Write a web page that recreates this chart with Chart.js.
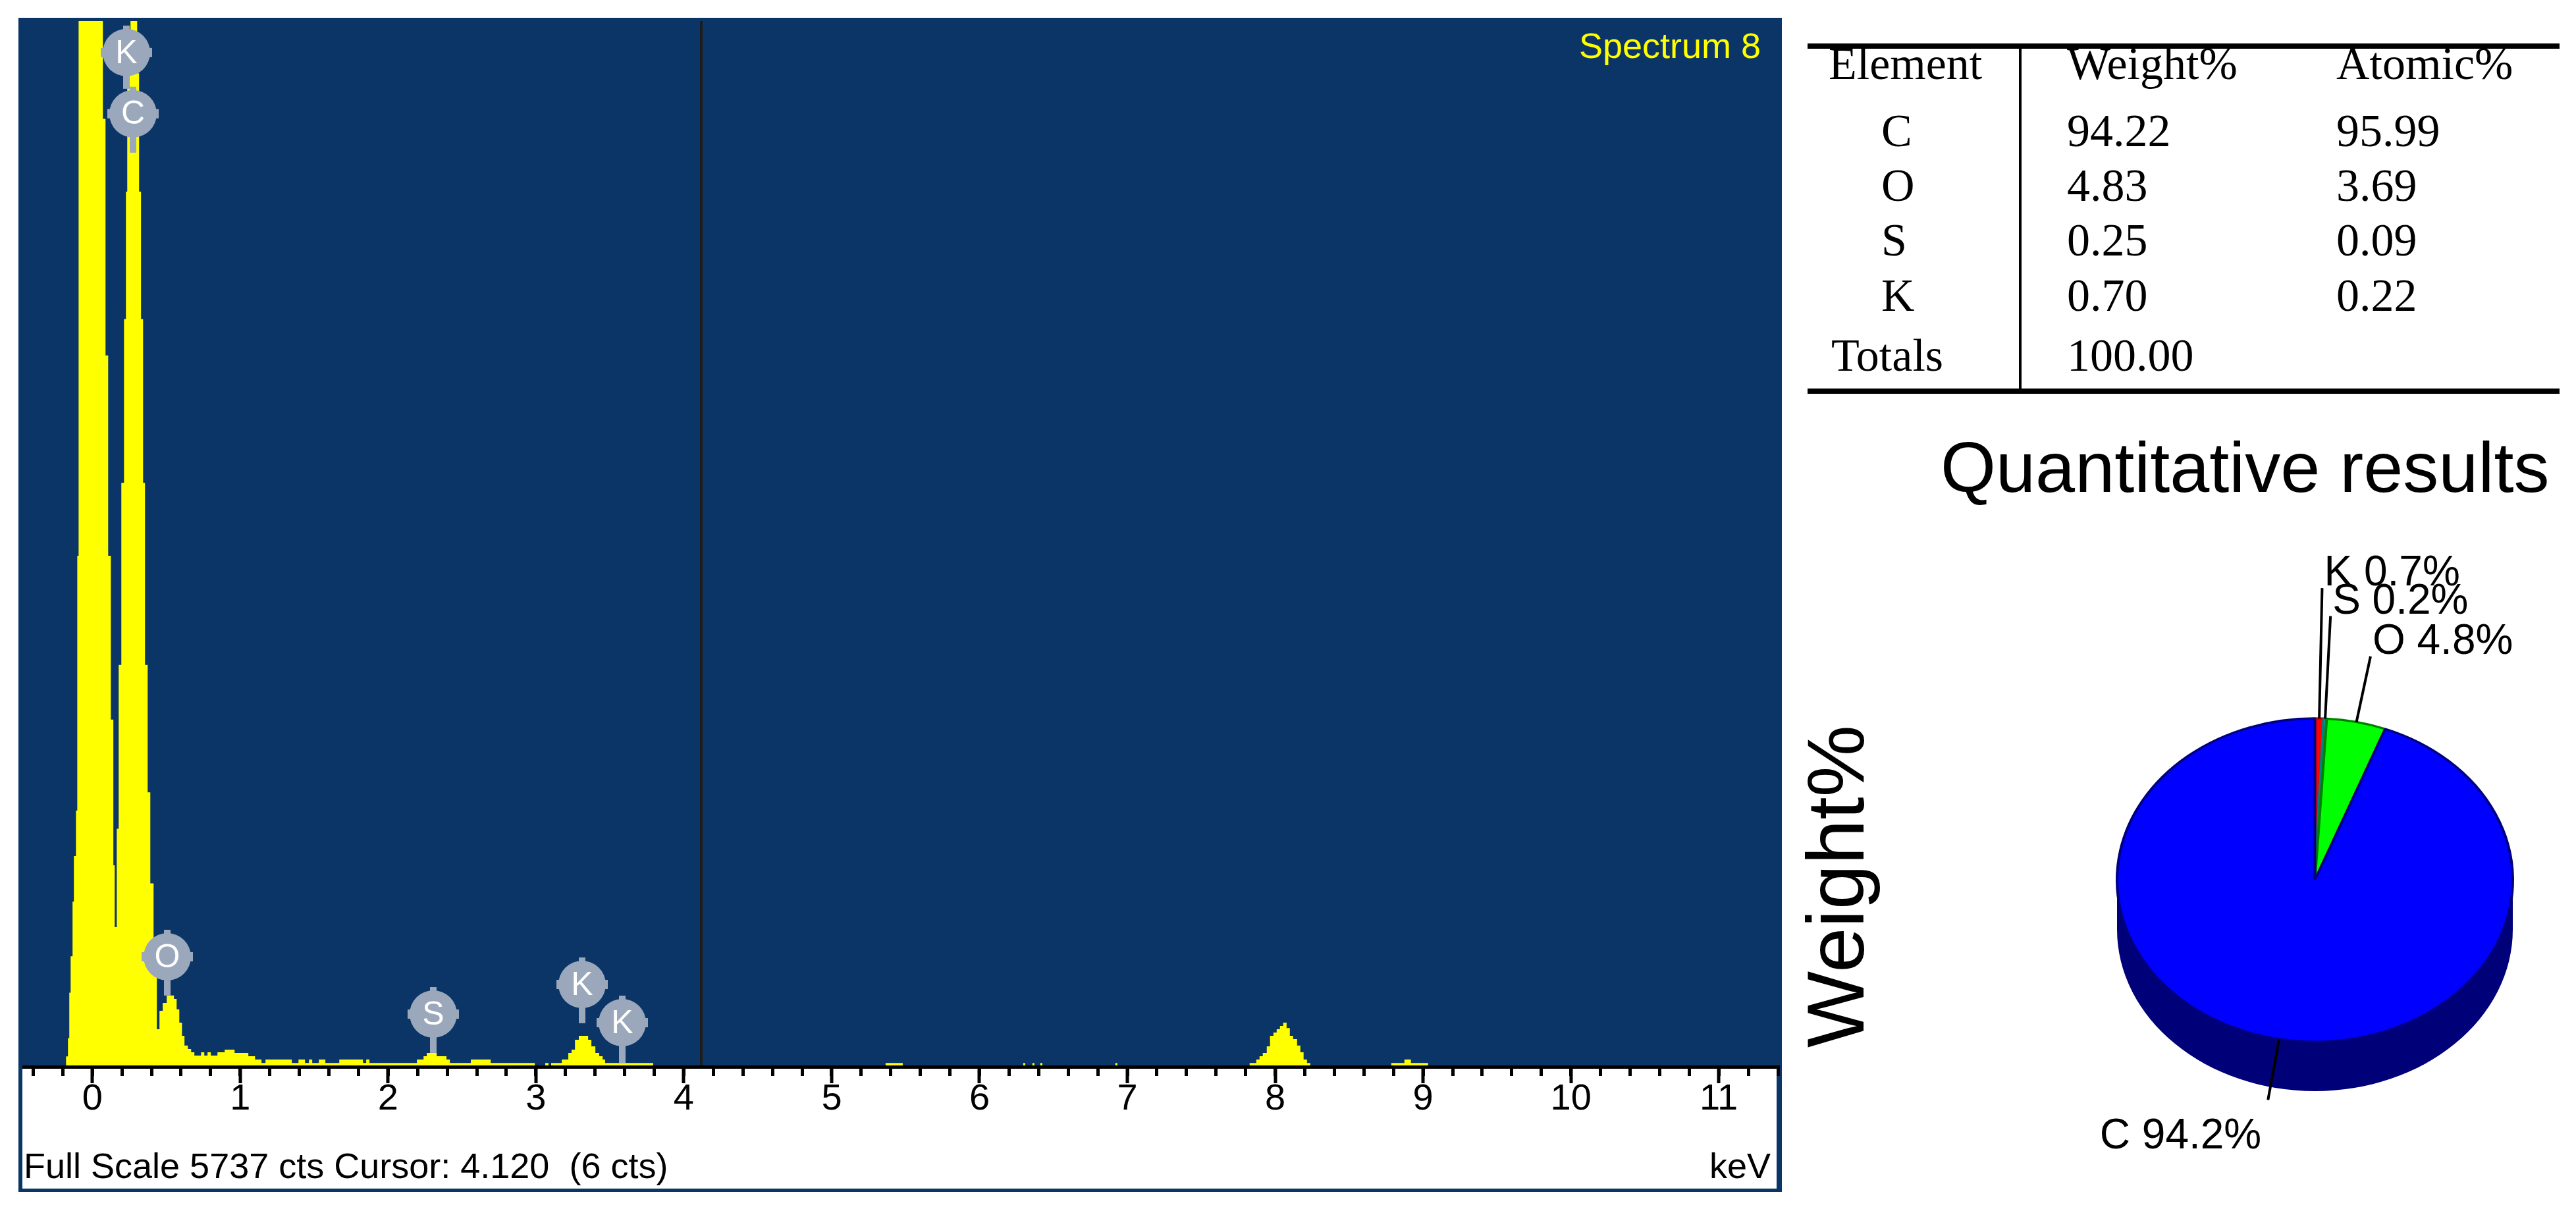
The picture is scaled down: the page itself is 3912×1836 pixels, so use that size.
<!DOCTYPE html>
<html>
<head>
<meta charset="utf-8">
<title>EDS spectrum 8</title>
<script src="https://cdn.jsdelivr.net/npm/chart.js@4.4.1/dist/chart.umd.min.js"></script>
<style>
  html, body { margin: 0; padding: 0; background: #fff; }
  body { position: relative; width: 3912px; height: 1836px; overflow: hidden; }
  #spectrum { position: absolute; left: 28px; top: 27px; }
  #pie { position: absolute; left: 2720px; top: 620px; }
  #results { position: absolute; left: 2745px; top: 66px; width: 1142px; table-layout: fixed;
    border-collapse: separate; border-spacing: 0; border-top: 8px solid #000; border-bottom: 8px solid #000;
    font-family: 'Liberation Serif', 'Times New Roman', serif; font-size: 70px; color: #000; }
  #results td { padding: 0; line-height: 76px; vertical-align: top; white-space: nowrap; box-sizing: border-box; }
  #results tr.hd td { line-height: 45px; }
  #results td.el { border-right: 4px solid #000; }
  #results td.w { padding-left: 69px; }
</style>
</head>
<body>
<canvas id="spectrum" width="2678" height="1783"></canvas>
<table id="results">
  <colgroup><col style="width:325px"><col style="width:478px"><col style="width:339px"></colgroup>
  <tbody id="rows"></tbody>
</table>
<canvas id="pie" width="1192" height="1216"></canvas>
<script>
// spectrum: each entry starts a run of channels (keV) at a count level
const energyKeV = [
  -0.5, -0.178, -0.165, -0.156, -0.147, -0.134, -0.125, -0.111, -0.102, -0.093,
  0.071, 0.089, 0.107, 0.125, 0.142, 0.151,
  0.165, 0.178, 0.196, 0.214, 0.227, 0.236, 0.258, 0.303, 0.316, 0.329, 0.343, 0.356, 0.374, 0.392, 0.414, 0.436,
  0.454, 0.476, 0.503, 0.552, 0.570, 0.588, 0.606, 0.623, 0.646, 0.668, 0.690, 0.735, 0.757, 0.779, 0.801, 0.846,
  0.895, 0.962, 1.055, 1.100, 1.144, 1.171, 1.349, 1.394, 1.438, 1.465, 1.487, 1.532, 1.576, 1.670, 1.830, 1.852, 1.874,
  2.195, 2.240, 2.262, 2.329, 2.395, 2.418, 2.560, 2.694, 2.992, 3.063, 3.085,
  3.103, 3.175, 3.219, 3.241, 3.264, 3.290, 3.353, 3.375, 3.402, 3.428, 3.451, 3.468, 3.793,
  5.365, 5.481, 6.296, 6.309, 6.358, 6.371, 6.411, 6.425, 6.919, 6.932,
  7.827, 7.872, 7.894, 7.916, 7.943, 7.965, 7.988, 8.010, 8.032, 8.054, 8.077, 8.099, 8.121, 8.148, 8.170, 8.192, 8.215, 8.237,
  8.785, 8.874, 8.918, 9.034, 11.4
];
const counts = [
  0, 50, 150, 400, 600, 900, 1150, 1400, 2800, 9000,
  5200, 3900, 2800, 1900, 1100, 760,
  1300, 2200, 3200, 4100, 4800, 5450, 5900, 5450, 4800, 4100, 3200, 2200, 1500, 1000, 600, 199,
  300, 344, 384, 365, 308, 235, 163, 109, 90, 72, 54, 72, 54, 72, 54, 72,
  87, 69, 51, 33, 14, 33, 14, 33, 14, 33, 14, 33, 14, 33, 14, 33, 14,
  33, 51, 69, 51, 33, 14, 33, 14, 0, 14, 0,
  14, 33, 69, 87, 141, 163, 141, 105, 69, 51, 33, 14, 0,
  14, 0, 14, 0, 14, 0, 14, 0, 14, 0,
  14, 33, 51, 69, 105, 163, 181, 199, 217, 235, 205, 163, 145, 109, 72, 33, 14, 0,
  14, 33, 14, 0, 0
];
const fullScale = 5737;
const cursorKeV = 4.12;
const cursorCts = 6;
const axisKeV = [-0.5, 11.4];

// peak tags: element, energy, tag height and stem end (cts)
const peakLabels = ['K', 'C', 'O', 'S', 'K', 'K'];
const peakKeV = [0.232, 0.276, 0.508, 2.306, 3.313, 3.586];
const peakTagCts = [5564, 5228, 597, 282, 445, 235];
const peakStemCts = [5365, 5014, 384, 69, 232, 14];

// quantitative results
const elements = ['C', 'O', 'S', 'K'];
const weightPct = [94.22, 4.83, 0.25, 0.70];
const atomicPct = [95.99, 3.69, 0.09, 0.22];

const PANEL = '#0a3566';
const TAG = '#9ba8bb';
const SANS = '"Liberation Sans", Arial, sans-serif';

// ---------- table ----------
const rowH = [87, 83, 83, 84, 91, 88];
const tbody = document.getElementById('rows');
function addRow(cells, h, pad, cls) {
  const tr = document.createElement('tr');
  if (cls) tr.className = cls;
  cells.forEach((txt, j) => {
    const td = document.createElement('td');
    td.textContent = txt;
    td.style.height = h + 'px';
    if (j === 0) { td.className = 'el'; td.style.paddingLeft = pad + 'px'; }
    if (j === 1) td.className = 'w';
    tr.appendChild(td);
  });
  tbody.appendChild(tr);
}
addRow(['Element', 'Weight%', 'Atomic%'], rowH[0], 32, 'hd');
elements.forEach((el, i) => addRow([el, weightPct[i].toFixed(2), atomicPct[i].toFixed(2)], rowH[i + 1], 112));
addRow(['Totals', weightPct.reduce((a, b) => a + b, 0).toFixed(2), ''], rowH[5], 36);

// ---------- spectrum ----------
const isWhole = v => Math.abs(v - Math.round(v)) < 1e-6;

const spectrumDeco = {
  id: 'spectrumDeco',
  beforeDraw(chart) {
    const {ctx, width, height, chartArea} = chart;
    ctx.save();
    ctx.fillStyle = PANEL;
    ctx.fillRect(0, 0, width, height);
    ctx.fillStyle = '#fff';
    ctx.fillRect(6, chartArea.bottom + 5, width - 14, height - 5 - (chartArea.bottom + 5));
    ctx.restore();
  },
  afterDatasetsDraw(chart) {
    const {ctx, width, chartArea} = chart;
    const xs = chart.scales.x, ys = chart.scales.y;
    ctx.save();
    // cursor
    const cx = xs.getPixelForValue(cursorKeV);
    ctx.fillStyle = '#1c1c1c';
    ctx.fillRect(Math.round(cx) - 2, chartArea.top, 4, chartArea.bottom - chartArea.top);
    // axis line and major ticks
    ctx.fillStyle = '#000';
    ctx.fillRect(6, chartArea.bottom, width - 14, 5);
    for (let v = Math.ceil(axisKeV[0]); v <= axisKeV[1]; v++) {
      const px = Math.round(xs.getPixelForValue(v));
      ctx.fillRect(px - 2.5, chartArea.bottom, 5, 27);
    }
    // peak tags
    const R = 36;
    ctx.textAlign = 'center';
    ctx.textBaseline = 'middle';
    ctx.font = '50px ' + SANS;
    peakLabels.forEach((lab, i) => {
      const px = Math.round(xs.getPixelForValue(peakKeV[i]));
      const py = ys.getPixelForValue(peakTagCts[i]);
      const sy = ys.getPixelForValue(peakStemCts[i]);
      ctx.fillStyle = TAG;
      ctx.fillRect(px - 5, py, 10, sy - py);
      ctx.fillRect(px - 5, py - R - 5, 10, 10);
      ctx.fillRect(px - R - 3, py - 7, 2 * R + 6, 14);
      ctx.beginPath();
      ctx.arc(px, py, R, 0, Math.PI * 2);
      ctx.fill();
      ctx.fillStyle = '#fff';
      ctx.fillText(lab, px, py + 2);
    });
    // texts
    ctx.font = '54px ' + SANS;
    ctx.textBaseline = 'alphabetic';
    ctx.fillStyle = '#ffff00';
    ctx.textAlign = 'right';
    ctx.fillText('Spectrum 8', 2646, 61);
    ctx.fillStyle = '#000';
    ctx.fillText('keV', 2661, 1762);
    ctx.textAlign = 'left';
    ctx.fillText('Full Scale ' + fullScale + ' cts Cursor: ' + cursorKeV.toFixed(3) + '  (' + cursorCts + ' cts)', 8, 1762);
    ctx.restore();
  }
};

new Chart(document.getElementById('spectrum'), {
  type: 'line',
  data: {
    datasets: [{
      label: 'Spectrum 8',
      data: energyKeV.map((e, i) => ({x: e, y: counts[i]})),
      stepped: true,
      fill: 'origin',
      backgroundColor: '#ffff00',
      borderColor: 'rgba(0,0,0,0)',
      borderWidth: 0,
      pointRadius: 0
    }]
  },
  options: {
    responsive: false,
    animation: false,
    devicePixelRatio: 1,
    layout: {padding: {left: 0, right: 6, top: 5, bottom: 0}},
    plugins: {legend: {display: false}, tooltip: {enabled: false}},
    scales: {
      x: {
        type: 'linear',
        min: axisKeV[0],
        max: axisKeV[1],
        afterFit: s => { s.height = 192; },
        border: {display: false},
        grid: {drawOnChartArea: false, drawTicks: true, tickLength: 16, tickWidth: 5, tickColor: '#000'},
        ticks: {
          stepSize: 0.2, maxTicksLimit: 200, includeBounds: false, autoSkip: false, maxRotation: 0,
          padding: 2, color: '#000', font: {family: 'Liberation Sans', size: 56},
          callback: v => isWhole(v) ? String(Math.round(v)) : ''
        }
      },
      y: {display: false, min: 0, max: fullScale}
    }
  },
  plugins: [spectrumDeco]
});

// ---------- pie ----------
const pieOrder = [...elements].reverse();   // K, S, O, C clockwise from 12 o'clock
const pieVals = pieOrder.map(el => weightPct[elements.indexOf(el)]);
const sliceFill = {C: '#0000ff', O: '#00ff00', S: '#00c0c0', K: '#ff0000'};
const sliceEdge = {C: '#000080', O: '#008000', S: '#008080', K: '#c00000'};
const sideFill = {C: '#000078', O: '#008000', S: '#008080', K: '#800000'};
const leaderLen = {C: 94, O: 102, S: 156, K: 198};
const SQUASH = 0.817, DEPTH = 75;

const pie3d = {
  id: 'pie3d',
  beforeDatasetsDraw(chart) {
    const ctx = chart.ctx;
    const arcs = chart.getDatasetMeta(0).data;
    const {x, y, outerRadius} = arcs[0];
    ctx.save();
    ctx.translate(x, y); ctx.scale(1, SQUASH); ctx.translate(-x, -y);
    const d = DEPTH / SQUASH;
    arcs.forEach((a, i) => {
      const s = Math.max(a.startAngle, 0), e = Math.min(a.endAngle, Math.PI);
      if (e <= s) return;
      ctx.beginPath();
      ctx.arc(x, y, outerRadius, s, e);
      ctx.arc(x, y + d, outerRadius, e, s, true);
      ctx.closePath();
      ctx.fillStyle = sideFill[pieOrder[i]];
      ctx.fill();
    });
  },
  afterDatasetsDraw(chart) {
    const ctx = chart.ctx;
    ctx.restore();
    const arcs = chart.getDatasetMeta(0).data;
    ctx.save();
    ctx.font = '64px ' + SANS;
    ctx.fillStyle = '#000';
    ctx.strokeStyle = '#000';
    ctx.lineWidth = 4;
    arcs.forEach((a, i) => {
      const el = pieOrder[i];
      const mid = (a.startAngle + a.endAngle) / 2;
      const ax = a.x + a.outerRadius * Math.cos(mid), ay = a.y + a.outerRadius * SQUASH * Math.sin(mid);
      const L = leaderLen[el];
      const ex = ax + L * Math.cos(mid), ey = ay + L * Math.sin(mid);
      ctx.beginPath(); ctx.moveTo(ax, ay); ctx.lineTo(ex, ey); ctx.stroke();
      const txt = el + ' ' + (Math.floor(pieVals[i] * 10) / 10).toFixed(1) + '%';
      if (ey < a.y) {
        ctx.textAlign = 'left'; ctx.textBaseline = 'alphabetic';
        ctx.fillText(txt, ex + 3, ey - 4);
      } else {
        ctx.textAlign = 'right'; ctx.textBaseline = 'top';
        ctx.fillText(txt, ex - 10, ey + 24);
      }
    });
    // title and axis caption
    ctx.textAlign = 'left'; ctx.textBaseline = 'alphabetic';
    ctx.font = '108px ' + SANS;
    ctx.fillText('Quantitative results', 227, 127);
    ctx.translate(110, 726);
    ctx.rotate(-Math.PI / 2);
    ctx.textAlign = 'center';
    ctx.font = '123px ' + SANS;
    ctx.fillText('Weight%', 0, 0);
    ctx.restore();
  }
};

new Chart(document.getElementById('pie'), {
  type: 'pie',
  data: {
    labels: pieOrder,
    datasets: [{
      data: pieVals,
      backgroundColor: pieOrder.map(el => sliceFill[el]),
      borderColor: pieOrder.map(el => sliceEdge[el]),
      borderWidth: 4,
      clip: false
    }]
  },
  options: {
    responsive: false,
    animation: false,
    devicePixelRatio: 1,
    layout: {padding: {left: 493, top: 414, right: 94, bottom: 197}},
    plugins: {legend: {display: false}, tooltip: {enabled: false}}
  },
  plugins: [pie3d]
});
</script>
</body>
</html>
